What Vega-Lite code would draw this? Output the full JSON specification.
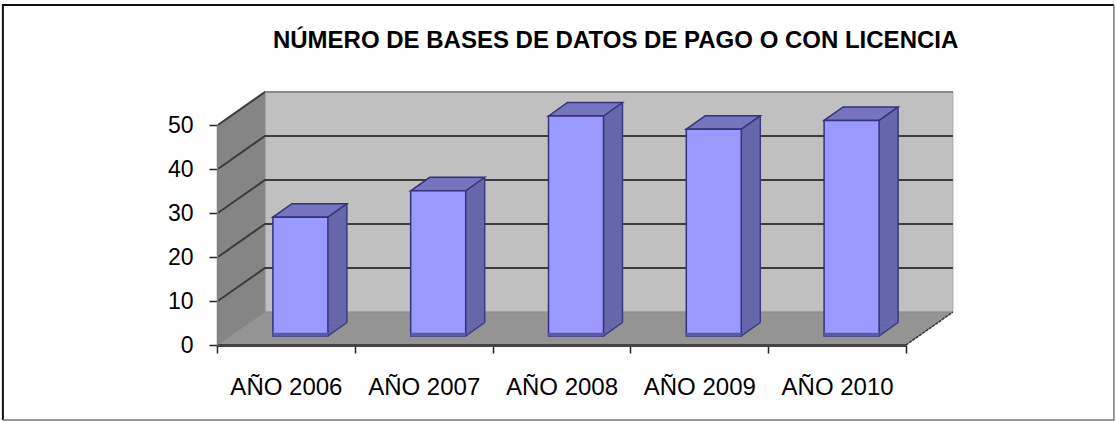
{
"$schema":"https://vega.github.io/schema/vega-lite/v6.json",
"width":689,"height":220,
"autosize":{"type":"none"},
"padding":{"left":217,"top":125,"right":210,"bottom":76},
"background":"white",
"view":{"stroke":null},
"config":{"font":"Liberation Sans"},
"title":{"text":"NÚMERO DE BASES DE DATOS DE PAGO O CON LICENCIA","anchor":"start","dx":274,"offset":-52,"fontSize":24,"fontWeight":"bold","font":"Liberation Sans","color":"black"},
"datasets":{
"bars":[{"anio":"AÑO 2006","bases":27},{"anio":"AÑO 2007","bases":33},{"anio":"AÑO 2008","bases":50},{"anio":"AÑO 2009","bases":47},{"anio":"AÑO 2010","bases":49}],
"ticks":[{"valor":10},{"valor":20},{"valor":30},{"valor":40},{"valor":50}],
"base":[{"valor":0}]
},
"encoding":{
"x":{"field":"anio","type":"nominal","sort":null,"scale":{"paddingInner":0,"paddingOuter":0},"title":null,
"axis":{"labelAngle":0,"labelFontSize":24,"labelColor":"black","labelPadding":22,"tickBand":"extent","tickSize":8,"tickColor":"#222","tickWidth":1.5,"domainColor":"#444","domainWidth":3,"labelFont":"Liberation Sans","zindex":1}},
"y":{"field":"bases","type":"quantitative","scale":{"domain":[0,50],"nice":false},"title":null,
"axis":{"values":[0,10,20,30,40,50],"grid":false,"labelFontSize":23,"labelColor":"black","labelPadding":16,"tickSize":8,"tickColor":"#222","tickWidth":1.5,"domainColor":"#808080","domainWidth":1.5,"labelFont":"Liberation Sans","zindex":1}}
},
"layer":[
{"data":{"name":"base"},"mark":{"type":"point","filled":false,"size":4,"clip":false,"opacity":1,"stroke":"#111","strokeWidth":2,"shape":"M-283,75 L-283,-340 L828,-340"},"encoding":{"x":{"datum":"AÑO 2006"},"y":{"field":"valor","type":"quantitative"}}},
{"data":{"name":"base"},"mark":{"type":"point","filled":false,"size":4,"clip":false,"opacity":1,"stroke":"#777","strokeWidth":1.5,"shape":"M-283,75 L828,75 L828,-340"},"encoding":{"x":{"datum":"AÑO 2006"},"y":{"field":"valor","type":"quantitative"}}},
{"data":{"name":"base"},"mark":{"type":"point","filled":true,"size":4,"opacity":1,"fill":"#c0c0c0","stroke":"#a8a8a8","strokeWidth":1,"shape":"M-21,-33 L-21,-253 L667,-253 L667,-33 Z"},"encoding":{"x":{"datum":"AÑO 2006"},"y":{"field":"valor","type":"quantitative"}}},
{"data":{"name":"base"},"mark":{"type":"point","filled":true,"size":4,"opacity":1,"fill":"#858585","stroke":"#858585","strokeWidth":1,"shape":"M-68,0 L-68,-220 L-21,-253 L-21,-33 Z"},"encoding":{"x":{"datum":"AÑO 2006"},"y":{"field":"valor","type":"quantitative"}}},
{"data":{"name":"base"},"mark":{"type":"point","filled":true,"size":4,"opacity":1,"fill":"#949494","stroke":"#8a8a8a","strokeWidth":1,"shape":"M-68,0 L-21,-33 L667,-33 L620,0 Z"},"encoding":{"x":{"datum":"AÑO 2006"},"y":{"field":"valor","type":"quantitative"}}},
{"data":{"name":"base"},"mark":{"type":"point","filled":false,"size":4,"opacity":1,"stroke":"#333","strokeWidth":1.5,"strokeDash":[3,1],"shape":"M620,0 L667,-33"},"encoding":{"x":{"datum":"AÑO 2006"},"y":{"field":"valor","type":"quantitative"}}},
{"data":{"name":"ticks"},"mark":{"type":"point","filled":false,"size":4,"opacity":1,"stroke":"#3c3c3c","strokeWidth":2,"shape":"M-68,0 L-21,-33 L667,-33"},"encoding":{"x":{"datum":"AÑO 2006"},"y":{"field":"valor","type":"quantitative"}}},
{"data":{"name":"base"},"mark":{"type":"point","filled":false,"size":4,"opacity":1,"stroke":"#8a8a8a","strokeWidth":2,"shape":"M-21,-253 L667,-253"},"encoding":{"x":{"datum":"AÑO 2006"},"y":{"field":"valor","type":"quantitative"}}},
{"data":{"name":"bars"},"mark":{"type":"bar","size":19,"fill":"#6666aa","xOffset":51.5,"yOffset":-22.5,"y2Offset":-22.5},"encoding":{"y":{"field":"bases","type":"quantitative"},"y2":{"datum":0}}},
{"data":{"name":"bars"},"mark":{"type":"point","filled":true,"size":4,"opacity":1,"fill":"#6666aa","stroke":"#6666aa","strokeWidth":0.5,"shape":"M42,-22.5 L61,-22.5 L42,-9 Z"},"encoding":{"y":{"datum":0,"type":"quantitative"}}},
{"data":{"name":"bars"},"mark":{"type":"point","filled":false,"size":4,"opacity":1,"stroke":"#3a3a80","strokeWidth":1.5,"shape":"M42,-9 L61,-22.5"},"encoding":{"y":{"datum":0,"type":"quantitative"}}},
{"data":{"name":"bars"},"mark":{"type":"rule","stroke":"#3a3a80","strokeWidth":1.5,"xOffset":61,"yOffset":-22.5,"y2Offset":-22.5},"encoding":{"y":{"field":"bases","type":"quantitative"},"y2":{"datum":0}}},
{"data":{"name":"bars"},"mark":{"type":"point","filled":true,"size":4,"opacity":1,"fill":"#7474bf","stroke":"#33337a","strokeWidth":1.5,"shape":"M-13,-9 L6,-22.5 L61,-22.5 L42,-9 Z"},"encoding":{"y":{"field":"bases","type":"quantitative"}}},
{"data":{"name":"bars"},"mark":{"type":"bar","size":55,"fill":"#9999ff","stroke":"#33337a","strokeWidth":1.5,"xOffset":14.5,"yOffset":-9,"y2Offset":-9},"encoding":{"y":{"field":"bases","type":"quantitative"},"y2":{"datum":0}}},
{"data":{"name":"bars"},"mark":{"type":"point","filled":true,"size":4,"opacity":1,"fill":"#5a5aa8","stroke":"#5a5aa8","strokeWidth":0.5,"shape":"M-13,-9 L42,-9 L42,-12 L-13,-12 Z"},"encoding":{"y":{"datum":0,"type":"quantitative"}}}
]
}
